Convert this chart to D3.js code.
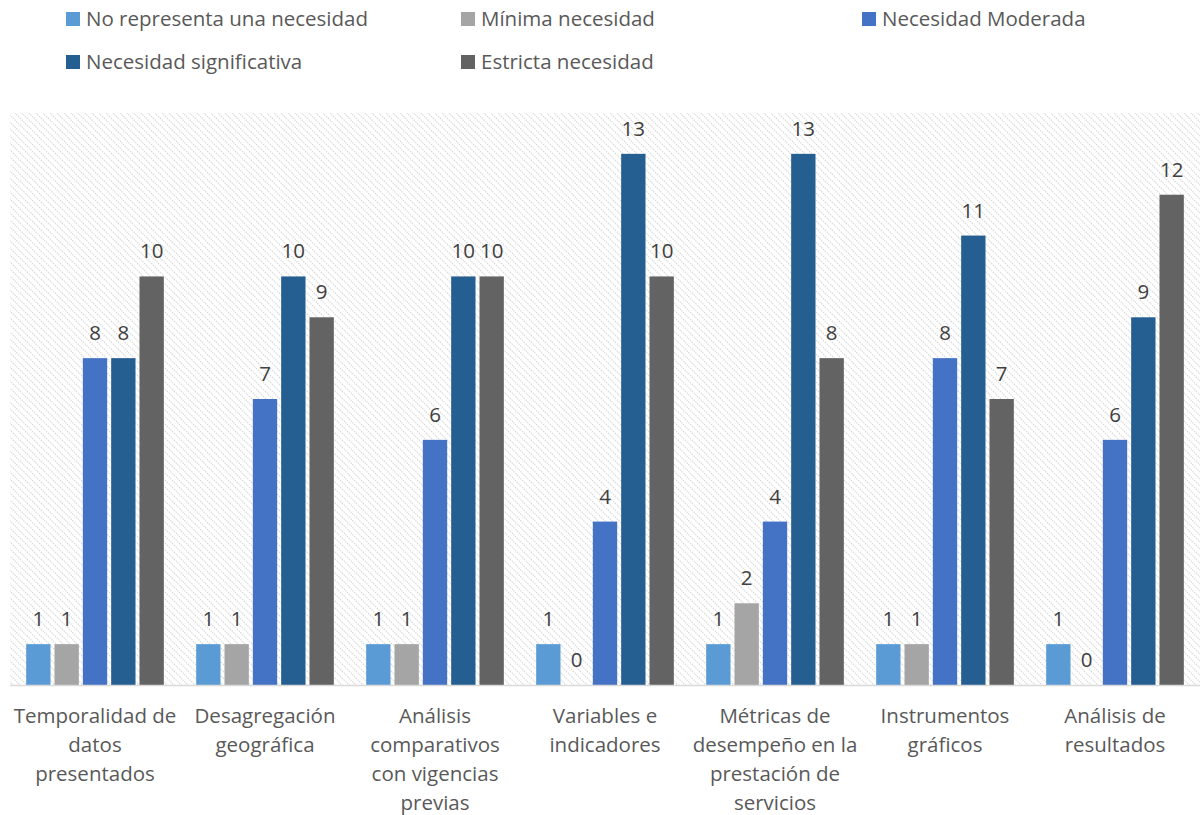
<!DOCTYPE html>
<html><head><meta charset="utf-8">
<script src="https://cdn.jsdelivr.net/npm/d3@7"></script>
<style>body{margin:0;background:#fff;} text{font-family:"Open Sans", Lato, sans-serif;}</style>
</head><body><svg id="c" width="1202" height="815"></svg>
<script>
const categories = [
  ["Temporalidad de","datos","presentados"],
  ["Desagregación","geográfica"],
  ["Análisis","comparativos","con vigencias","previas"],
  ["Variables e","indicadores"],
  ["Métricas de","desempeño en la","prestación de","servicios"],
  ["Instrumentos","gráficos"],
  ["Análisis de","resultados"]
];
const seriesNames = ["No representa una necesidad","Mínima necesidad","Necesidad Moderada","Necesidad significativa","Estricta necesidad"];
const noNecesidad = [1,1,1,1,1,1,1];
const minima = [1,1,1,0,2,1,0];
const moderada = [8,7,6,4,4,8,6];
const significativa = [8,10,10,13,13,11,9];
const estricta = [10,9,10,10,8,7,12];
const colors = ["#5B9BD5","#A5A5A5","#4472C4","#255E91","#636363"];
const seriesVals = [noNecesidad, minima, moderada, significativa, estricta];

const svg = d3.select("#c");
const L = 10, R = 1200, T = 113, B = 685;
const defs = svg.append("defs");
const pat = defs.append("pattern").attr("id","hatch").attr("patternUnits","userSpaceOnUse")
  .attr("width",7).attr("height",7);
pat.append("path").attr("d","M-1,-1 L8,8 M-1,6 L1,8 M6,-1 L8,1").attr("stroke","#D6D6D6").attr("stroke-width",1.2)
  .attr("stroke-dasharray","1.4,1");
svg.append("rect").attr("x",L).attr("y",T).attr("width",R-L).attr("height",B-T).attr("fill","url(#hatch)");

const x0 = d3.scaleBand().domain(d3.range(categories.length)).range([L,R]).paddingInner(0).paddingOuter(0);
const x1 = d3.scaleBand().domain(d3.range(seriesNames.length)).range([0,x0.bandwidth()]).paddingInner(0.0).paddingOuter(0.5);
const y = d3.scaleLinear().domain([0,14]).range([B,T]);

const g = svg.append("g");
seriesVals.forEach((vals,s)=>{
  vals.forEach((v,i)=>{
    const bx = x0(i)+x1(s);
    g.append("rect").attr("x",bx+2).attr("y",y(v)).attr("width",x1.bandwidth()-4).attr("height",B-y(v))
      .attr("fill",colors[s]);
    g.append("text").attr("x",bx+x1.bandwidth()/2).attr("y",y(v)-18).attr("text-anchor","middle")
      .attr("font-size",20.5).attr("fill","#404040").text(v);
  });
});

svg.append("line").attr("x1",L).attr("x2",R).attr("y1",B+0.5).attr("y2",B+0.5).attr("stroke","#D9D9D9").attr("stroke-width",1.5);

categories.forEach((lines,i)=>{
  const t = svg.append("text").attr("text-anchor","middle").attr("font-size",20.5).attr("fill","#595959");
  lines.forEach((ln,k)=>{
    t.append("tspan").attr("x",x0(i)+x0.bandwidth()/2).attr("y",723+k*29).text(ln);
  });
});

const legendPos = [[66,19],[461,19],[862,19],[66,62],[461,62]];
seriesNames.forEach((n,s)=>{
  const [lx,ly] = legendPos[s];
  svg.append("rect").attr("x",lx).attr("y",ly-7).attr("width",14).attr("height",14).attr("fill",colors[s]);
  svg.append("text").attr("x",lx+20).attr("y",ly+7).attr("font-size",20.5).attr("fill","#595959").text(n);
});
</script></body></html>
